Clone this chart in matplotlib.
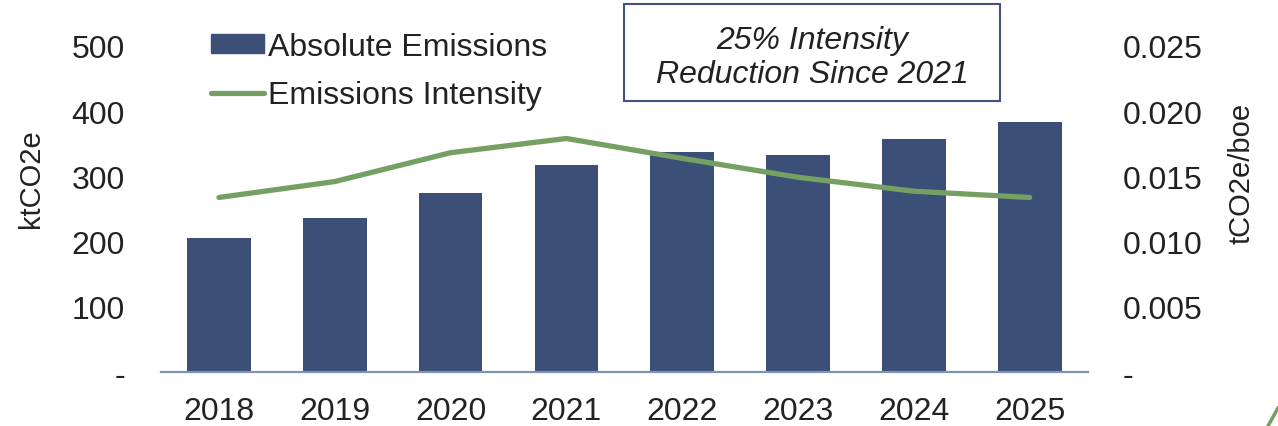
import numpy as np
import matplotlib.pyplot as plt
from matplotlib.lines import Line2D
from matplotlib.patches import Rectangle

plt.rcParams['font.family'] = ['Liberation Sans', 'DejaVu Sans']

years = ['2018', '2019', '2020', '2021', '2022', '2023', '2024', '2025']
absolute = [205, 237, 275, 318, 338, 333, 357, 384]
intensity = [0.01339, 0.01461, 0.01682, 0.01791, 0.01639, 0.01494, 0.01387, 0.01339]
left_ticks = [0, 100, 200, 300, 400, 500]
left_labels = ['-', '100', '200', '300', '400', '500']
right_ticks = [0, 0.005, 0.010, 0.015, 0.020, 0.025]
right_labels = ['-', '0.005', '0.010', '0.015', '0.020', '0.025']

bar_col = '#3c4f76'
line_col = '#76a063'
txt_col = '#222222'

fig = plt.figure(figsize=(12.78, 4.27), dpi=100)
ax = fig.add_axes([0.126, 0.126, 0.725, 0.764])
x = np.arange(len(years))
bars = ax.bar(x, absolute, width=0.55, color=bar_col, zorder=2)
ax.set_xlim(-0.5, len(years) - 0.5)
ax.set_ylim(0, 500)
ax.set_yticks(left_ticks)
ax.set_yticklabels(left_labels)
ax.set_xticks(x)
ax.set_xticklabels(years)
for s in ['top', 'right', 'left']:
    ax.spines[s].set_visible(False)
ax.spines['bottom'].set_color('#7f93b5')
ax.spines['bottom'].set_linewidth(1.6)
ax.tick_params(length=0, labelsize=23, colors=txt_col)
ax.tick_params(axis='x', pad=17)
ax.tick_params(axis='y', pad=26)

ax2 = ax.twinx()
ax2.plot(x, intensity, color=line_col, lw=3.8, solid_capstyle='round', zorder=3)
ax2.set_ylim(0, 0.025)
ax2.set_yticks(right_ticks)
ax2.set_yticklabels(right_labels)
for s in ['top', 'right', 'left', 'bottom']:
    ax2.spines[s].set_visible(False)
ax2.tick_params(length=0, labelsize=23, colors=txt_col, pad=25)

fig.text(31 / 1278, 1 - 179 / 427, 'ktCO2e', rotation=90, ha='center',
         va='center', fontsize=21, color=txt_col)
fig.text(1242 / 1278, 1 - 173 / 427, 'tCO2e/boe', rotation=90, ha='center',
         va='center', fontsize=21, color=txt_col)

handles = [Rectangle((0, 0), 1, 1, color=bar_col),
           Line2D([0], [0], color=line_col, lw=3.8, solid_capstyle='round')]
leg = fig.legend(handles, ['Absolute Emissions', 'Emissions Intensity'],
                 loc='upper left', bbox_to_anchor=(0.145, 0.983), frameon=False,
                 fontsize=23, handlelength=1.65, handleheight=0.5,
                 handletextpad=0.15, labelspacing=0.58, borderaxespad=0.4)
for t in leg.get_texts():
    t.set_color(txt_col)

fig.patches.append(Rectangle((624 / 1278, 1 - 102 / 427), 376 / 1278, 97 / 427,
                             transform=fig.transFigure, fill=False,
                             edgecolor='#44507f', lw=1.5))
fig.text(812 / 1278, 1 - 58 / 427, '25% Intensity\nReduction Since 2021',
         ha='center', va='center', style='italic', fontsize=23,
         color=txt_col, linespacing=1.15)

# little green arc in the bottom-right corner
fig.lines.append(Line2D([1268 / 1278, 1278 / 1278], [0.0, 18 / 427],
                        transform=fig.transFigure, color=line_col, lw=2.5))

fig.savefig('out.png', dpi=100)
